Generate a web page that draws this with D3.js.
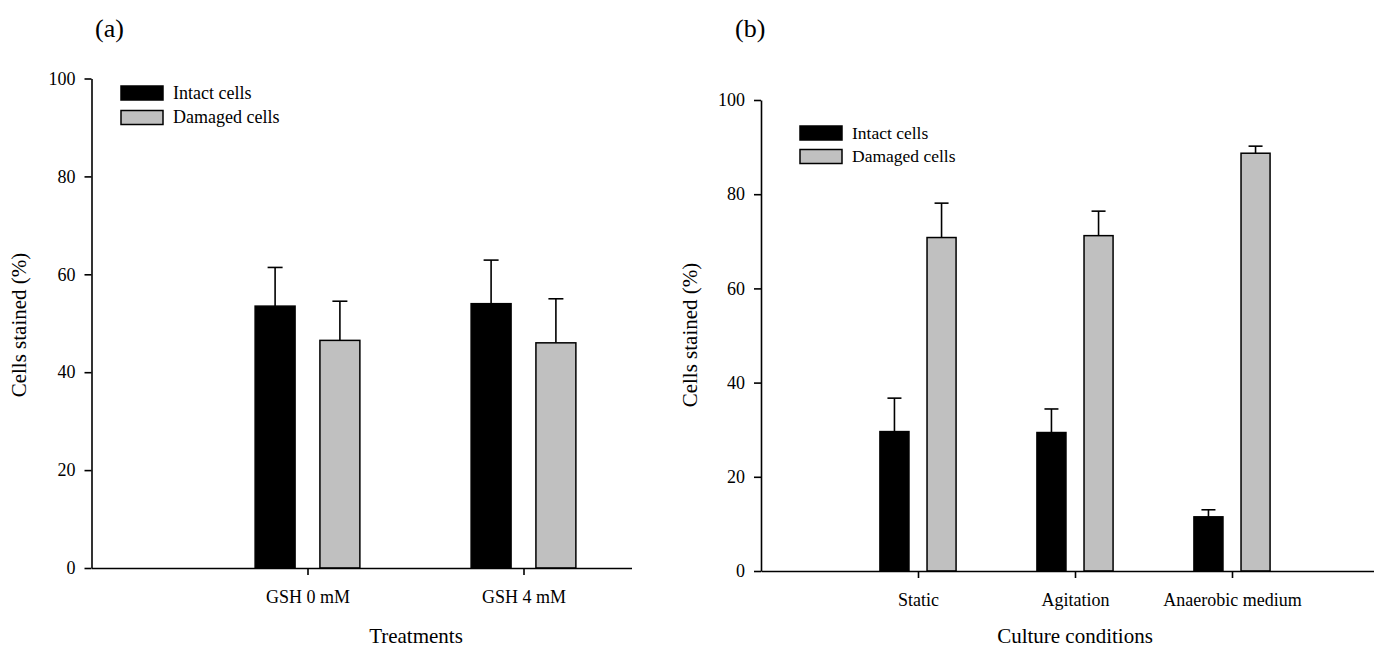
<!DOCTYPE html>
<html>
<head>
<meta charset="utf-8">
<script src="https://cdn.jsdelivr.net/npm/d3@7"></script>
<style>
  body { margin: 0; background: #fff; }
  svg { display: block; }
  svg text { font-family: "Liberation Serif", "DejaVu Serif", serif; fill: #000; }
  .axis path, .axis line { stroke: #000; stroke-width: 1.6px; }
  .axis text { font-size: 18px; }
</style>
</head>
<body>
<svg id="chart" width="1374" height="650"></svg>
<script>
// panel (a)
const treatments = ['GSH 0 mM', 'GSH 4 mM']
const intactA = [53.5, 54.0]
const intactAErr = [7.9, 8.9]
const damagedA = [46.5, 46.0]
const damagedAErr = [8.0, 9.0]

// panel (b)
const conditions = ['Static', 'Agitation', 'Anaerobic medium']
const intactB = [29.6, 29.4, 11.5]
const intactBErr = [7.1, 5.0, 1.5]
const damagedB = [70.8, 71.2, 88.7]
const damagedBErr = [7.3, 5.2, 1.5]

const yTicks = [0, 20, 40, 60, 80, 100]
const legendLabels = ['Intact cells', 'Damaged cells']
const colors = ['#000000', '#c0c0c0']
const serif = '"Liberation Serif", "DejaVu Serif", serif'

const svg = d3.select('#chart')

function drawPanel(opts) {
  let g = svg.append('g')
  let x = d3.scaleLinear().domain([0, opts.xMax]).range([opts.left, opts.left + opts.unit * opts.xMax])
  let y = d3.scaleLinear().domain([0, 100]).range([opts.bottom, opts.top])

  let series = [
    { vals: opts.intact, errs: opts.intactErr, off: -0.15, color: colors[0] },
    { vals: opts.damaged, errs: opts.damagedErr, off: 0.15, color: colors[1] }
  ]
  let bw = 0.185

  series.forEach((s) => {
    // error bars, upper half only
    g.selectAll(null).data(s.vals).enter().append('line')
      .attr('x1', (d, i) => x(i + 1 + s.off))
      .attr('x2', (d, i) => x(i + 1 + s.off))
      .attr('y1', (d) => y(d))
      .attr('y2', (d, i) => y(d + s.errs[i]))
      .attr('stroke', '#000').attr('stroke-width', 1.6)
    g.selectAll(null).data(s.vals).enter().append('line')
      .attr('x1', (d, i) => x(i + 1 + s.off) - opts.cap / 2)
      .attr('x2', (d, i) => x(i + 1 + s.off) + opts.cap / 2)
      .attr('y1', (d, i) => y(d + s.errs[i]))
      .attr('y2', (d, i) => y(d + s.errs[i]))
      .attr('stroke', '#000').attr('stroke-width', 1.6)
    g.selectAll(null).data(s.vals).enter().append('rect')
      .attr('x', (d, i) => x(i + 1 + s.off - bw / 2))
      .attr('width', x(bw) - x(0))
      .attr('y', (d) => y(d))
      .attr('height', (d) => y(0) - y(d))
      .attr('fill', s.color)
      .attr('stroke', '#000').attr('stroke-width', 1.5)
  })

  g.append('g').attr('class', 'axis')
    .attr('transform', `translate(${opts.left},0)`)
    .call(d3.axisLeft(y).tickValues(yTicks).tickSize(7).tickSizeOuter(0).tickPadding(9))
    .attr('font-family', serif)

  g.append('g').attr('class', 'axis')
    .attr('transform', `translate(0,${opts.bottom})`)
    .call(d3.axisBottom(x).tickValues(opts.cats.map((c, i) => i + 1))
      .tickFormat((d) => opts.cats[d - 1]).tickSize(7).tickSizeOuter(0).tickPadding(15))
    .attr('font-family', serif)

  g.append('text')
    .attr('transform', `translate(${opts.yLabelX},${opts.yLabelY}) rotate(-90)`)
    .attr('text-anchor', 'middle').attr('font-size', 21)
    .text('Cells stained (%)')

  g.append('text')
    .attr('x', opts.xLabelX).attr('y', 643)
    .attr('text-anchor', 'middle').attr('font-size', 21)
    .text(opts.xTitle)

  g.append('text')
    .attr('x', opts.panelX).attr('y', 37)
    .attr('font-size', 26)
    .text(opts.panel)

  // legend
  legendLabels.forEach((lab, i) => {
    g.append('rect')
      .attr('x', opts.legX).attr('y', opts.legY + i * opts.legStep)
      .attr('width', 42).attr('height', 14)
      .attr('fill', colors[i]).attr('stroke', '#000').attr('stroke-width', 1.5)
    g.append('text')
      .attr('x', opts.legX + 52).attr('y', opts.legY + i * opts.legStep + 12.5)
      .attr('font-size', opts.legFont)
      .text(lab)
  })
}

drawPanel({
  cats: treatments, intact: intactA, intactErr: intactAErr, damaged: damagedA, damagedErr: damagedAErr,
  left: 91.5, unit: 216, xMax: 2.5, top: 78.5, bottom: 568, cap: 15,
  yLabelX: 26, yLabelY: 325, xLabelX: 416, xTitle: 'Treatments',
  panel: '(a)', panelX: 95, legX: 121, legY: 86, legStep: 24.5, legFont: 18
})

drawPanel({
  cats: conditions, intact: intactB, intactErr: intactBErr, damaged: damagedB, damagedErr: damagedBErr,
  left: 761, unit: 157, xMax: 4, top: 100, bottom: 571, cap: 14,
  yLabelX: 697, yLabelY: 335, xLabelX: 1075, xTitle: 'Culture conditions',
  panel: '(b)', panelX: 735, legX: 800, legY: 126, legStep: 23.5, legFont: 17.5
})
</script>
</body>
</html>
